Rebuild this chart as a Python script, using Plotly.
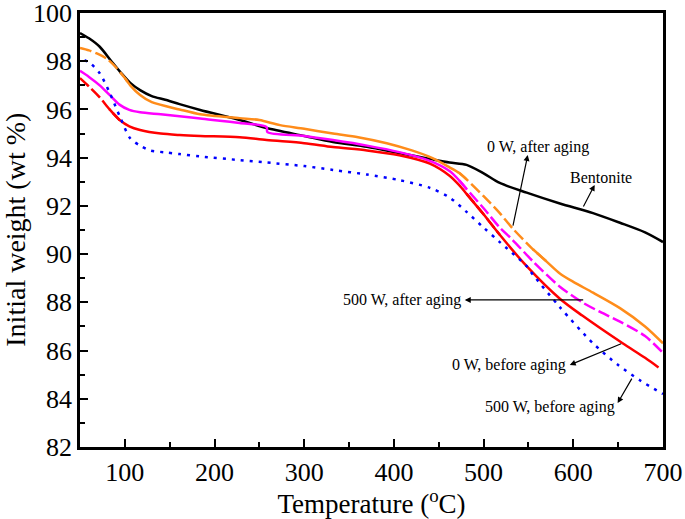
import plotly.graph_objects as go

# Temperature (degC) / weight (wt %)
bent_t = [50, 60, 72, 85, 95, 106, 117, 130, 145, 161, 184, 228, 258, 300, 332,
          370, 406, 440, 462, 481, 500, 518, 548, 585, 622, 652, 680, 700]
bent_w = [99.17, 98.95, 98.6, 98.0, 97.55, 97.1, 96.8, 96.55, 96.4, 96.22,
          95.98, 95.56, 95.23, 94.9, 94.65, 94.45, 94.19, 93.95, 93.8, 93.7,
          93.35, 92.95, 92.55, 92.1, 91.7, 91.3, 90.9, 90.5]

w0_after_t = [50, 60, 70, 80, 90, 100, 106, 117, 130, 161, 184, 228, 250, 273,
              300, 332, 360, 392, 420, 443, 462, 473, 481, 500, 518, 532, 555,
              570, 585, 600, 622, 652, 680, 700]
w0_after_w = [98.55, 98.45, 98.3, 98.1, 97.75, 97.3, 97.0, 96.6, 96.3, 96.0, 95.8,
              95.64, 95.56, 95.35, 95.2, 95.0, 94.85, 94.6, 94.3, 93.98, 93.6,
              93.36, 93.1, 92.4, 91.7, 91.08, 90.2, 89.7, 89.2, 88.85, 88.4,
              87.76, 87.0, 86.3]

w500_after_t = [50, 60, 72, 83, 94, 105, 117, 140, 161, 184, 228, 258, 259, 300,
                332, 370, 406, 440, 462, 473, 481, 500, 518, 532, 555, 585, 610,
                630, 652, 680, 700]
w500_after_w = [97.6, 97.35, 97.0, 96.6, 96.2, 95.98, 95.88, 95.8, 95.72, 95.62,
                95.44, 95.27, 95.06, 94.9, 94.73, 94.5, 94.23, 93.87, 93.45,
                93.05, 92.7, 91.9, 91.1, 90.6, 89.7, 88.65, 88.0, 87.6, 87.2,
                86.6, 85.9]

w0_before_t = [50, 60, 72, 83, 94.5, 105, 117, 140, 161, 184, 228, 258, 300, 332,
               370, 406, 440, 462, 473, 481, 500, 518, 548, 585, 610, 655, 680, 695]
w0_before_w = [97.3, 96.95, 96.5, 96.0, 95.55, 95.3, 95.15, 95.0, 94.94, 94.9,
               94.85, 94.73, 94.6, 94.44, 94.3, 94.1, 93.75, 93.25, 92.85, 92.5,
               91.65, 90.8, 89.5, 88.15, 87.45, 86.3, 85.7, 85.3]

w500_before_t = [55, 62, 72, 83, 94.5, 106, 117, 128, 145, 161, 184, 228, 258,
                 300, 332, 370, 406, 440, 462, 481, 500, 518, 548, 555, 585, 622,
                 650, 675, 700]
w500_before_w = [98.05, 97.9, 97.5, 96.7, 95.7, 94.8, 94.5, 94.3, 94.22, 94.15,
                 94.05, 93.9, 93.8, 93.65, 93.49, 93.3, 93.07, 92.75, 92.35, 91.75,
                 91.1, 90.5, 89.5, 89.15, 87.8, 86.3, 85.4, 84.75, 84.2]

x_ticks = [100, 200, 300, 400, 500, 600, 700]
y_ticks = [82, 84, 86, 88, 90, 92, 94, 96, 98, 100]

FONT = 'Liberation Serif'
DASH = '12px,4px'

fig = go.Figure()


def add_curve(t, w, color, pieces):
    """Draw one curve; pieces = list of (t_start, t_end, dash) on data points.

    Dashed pieces are drawn first, solid pieces on top with one point of
    overlap so the joins stay smooth.
    """
    ordered = sorted(pieces, key=lambda p: p[2] == 'solid')
    for t0, t1, dash in ordered:
        idx = [i for i, v in enumerate(t) if t0 <= v <= t1]
        if dash == 'solid' and len(pieces) > 1:
            lo, hi = max(idx[0] - 1, 0), min(idx[-1] + 1, len(t) - 1)
            idx = list(range(lo, hi + 1))
        fig.add_trace(go.Scatter(
            x=[t[i] for i in idx], y=[w[i] for i in idx], mode='lines',
            line=dict(color=color, width=2.5, dash=dash, shape='spline',
                      smoothing=0.8),
            showlegend=False, hoverinfo='skip'))


add_curve(bent_t, bent_w, '#000000', [(50, 700, 'solid')])
add_curve(w0_after_t, w0_after_w, '#FF8C1A',
          [(50, 106, DASH), (106, 473, 'solid'),
           (473, 570, DASH), (570, 700, 'solid')])
add_curve(w500_after_t, w500_after_w, '#FF00FF',
          [(50, 473, 'solid'), (473, 700, DASH)])
add_curve(w0_before_t, w0_before_w, '#FF0000',
          [(50, 94.5, DASH), (94.5, 481, 'solid'),
           (481, 518, DASH), (518, 700, 'solid')])
add_curve(w500_before_t, w500_before_w, '#0000FF', [(50, 700, '3px,6px')])

# labels and their arrows (head at the label)
labels = [
    ('0 W, after aging', 560.3, 94.44, 'center'),
    ('Bentonite', 630.5, 93.16, 'center'),
    ('500 W, after aging', 476.7, 88.10, 'right'),
    ('0 W, before aging', 593.7, 85.40, 'right'),
    ('500 W, before aging', 573.7, 83.66, 'center'),
]
for text, x, y, anchor in labels:
    fig.add_annotation(x=x, y=y, text=text, showarrow=False, xanchor=anchor,
                       yanchor='middle', font=dict(family=FONT, size=16,
                                                   color='black'))

arrows = [
    (549.2, 94.11, 532.4, 91.12),
    (623.8, 92.87, 610.4, 91.91),
    (479.0, 88.10, 612.7, 88.10),
    (596.0, 85.40, 655.0, 86.31),
    (649.4, 83.82, 666.2, 84.90),
]
for hx, hy, tx, ty in arrows:
    fig.add_annotation(x=hx, y=hy, ax=tx, ay=ty, axref='x', ayref='y',
                       text='', showarrow=True, arrowhead=2, arrowsize=1,
                       arrowwidth=1.2, arrowcolor='black')

# y title sits closer to the tick labels than plotly's own placement
fig.add_annotation(text='Initial weight (wt %)', xref='paper', yref='paper',
                   x=-0.112, y=0.5, xanchor='center', yanchor='middle',
                   textangle=-90, showarrow=False,
                   font=dict(family=FONT, size=28, color='black'))

axis_common = dict(
    showline=True, linecolor='black', linewidth=2.5, mirror=True,
    showgrid=False, zeroline=False, ticks='inside', ticklen=8, tickwidth=2,
    tickcolor='black', automargin=False, ticklabeloverflow='allow',
    tickfont=dict(family=FONT, size=26, color='black'),
)

fig.update_xaxes(range=[50, 700], tickvals=x_ticks,
                 minor=dict(ticks='inside', dtick=50, tick0=0, ticklen=5,
                            tickwidth=2, tickcolor='black'),
                 title=dict(text='Temperature (<sup>o</sup>C)', standoff=0,
                            font=dict(family=FONT, size=27, color='black')),
                 **axis_common)
fig.update_yaxes(range=[82, 100], tickvals=y_ticks,
                 minor=dict(ticks='inside', dtick=1, tick0=0, ticklen=5,
                            tickwidth=2, tickcolor='black'),
                 **axis_common)

fig.update_layout(
    width=685, height=519,
    margin=dict(l=80, r=22, t=13, b=72),
    paper_bgcolor='white', plot_bgcolor='white',
)

# drop the default 8px page margin so the figure fills the window
fig.write_html('out.html', config={'displayModeBar': False},
               post_script="document.body.style.margin = '0';")
